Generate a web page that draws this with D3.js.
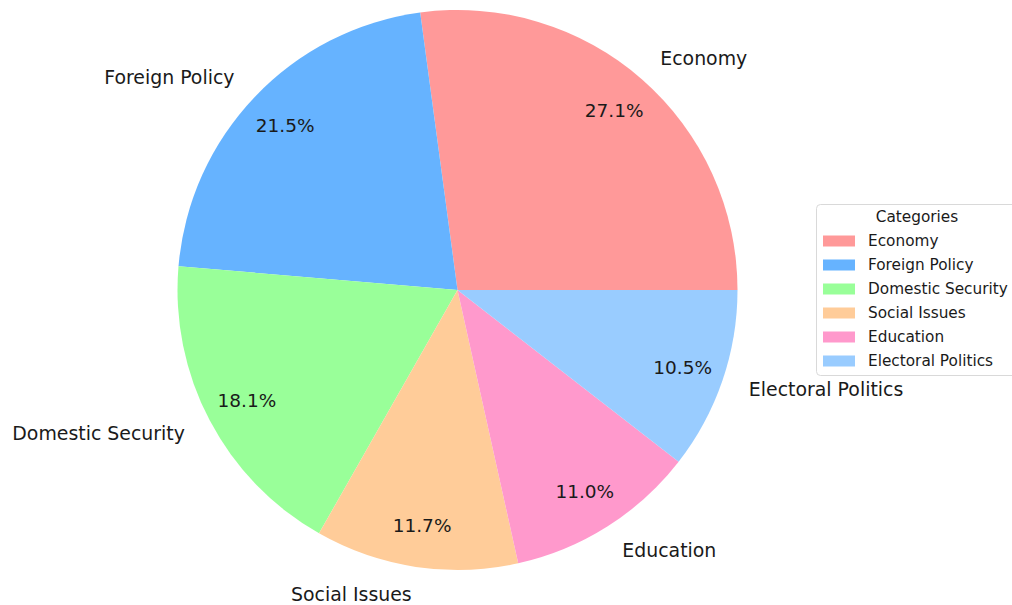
<!DOCTYPE html>
<html lang="en">
  <head>
    <meta charset="utf-8" />
    <title>Categories pie</title>
    <script src="https://d3js.org/d3.v7.min.js"></script>
    <style type="text/css">
      body {
        margin: 0;
        background: #fff;
      }
      svg text {
        font-family: "DejaVu Sans", sans-serif;
        fill: #1a1a1a;
      }
    </style>
  </head>
  <body>
    <script type="text/javascript">
      //Width and height
      var w = 1012;
      var h = 605;

      var categories = [
        "Economy",
        "Foreign Policy",
        "Domestic Security",
        "Social Issues",
        "Education",
        "Electoral Politics",
      ];
      var values = [27.1, 21.5, 18.1, 11.7, 11.0, 10.5];
      var colors = ["#ff9999", "#66b3ff", "#99ff99", "#ffcc99", "#ff99cc", "#99ccff"];

      var cx = 457.5;
      var cy = 290;
      var r = 280;

      var total = d3.sum(values);

      var color = d3.scaleOrdinal().domain(categories).range(colors);

      //matplotlib style: start at 3 o'clock, go counter-clockwise
      var pie = d3
        .pie()
        .sort(null)
        .startAngle(Math.PI / 2)
        .endAngle(Math.PI / 2 - 2 * Math.PI)
        .value(function (d) {
          return d.value;
        });

      var data = pie(
        categories.map(function (c, i) {
          return { name: c, value: values[i] };
        })
      );

      var arc = d3.arc().innerRadius(0).outerRadius(r);
      var labelArc = d3.arc().innerRadius(r * 1.1).outerRadius(r * 1.1);
      var pctArc = d3.arc().innerRadius(r * 0.85).outerRadius(r * 0.85);

      //Create SVG element
      var svg = d3
        .select("body")
        .append("svg")
        .attr("width", w)
        .attr("height", h);

      var g = svg.append("g").attr("transform", "translate(" + cx + "," + cy + ")");

      g.selectAll("path")
        .data(data)
        .enter()
        .append("path")
        .attr("d", arc)
        .attr("fill", function (d) {
          return color(d.data.name);
        });

      //Outer labels
      g.selectAll("text.label")
        .data(data)
        .enter()
        .append("text")
        .attr("class", "label")
        .attr("x", function (d) {
          return labelArc.centroid(d)[0];
        })
        .attr("y", function (d) {
          return labelArc.centroid(d)[1];
        })
        .attr("dy", "0.35em")
        .attr("text-anchor", function (d) {
          return labelArc.centroid(d)[0] > 0 ? "start" : "end";
        })
        .style("font-size", "18.9px")
        .text(function (d) {
          return d.data.name;
        });

      //Percent labels
      g.selectAll("text.pct")
        .data(data)
        .enter()
        .append("text")
        .attr("class", "pct")
        .attr("x", function (d) {
          return pctArc.centroid(d)[0];
        })
        .attr("y", function (d) {
          return pctArc.centroid(d)[1];
        })
        .attr("dy", "0.35em")
        .attr("text-anchor", "middle")
        .style("font-size", "18.5px")
        .text(function (d) {
          return ((d.data.value / total) * 100).toFixed(1) + "%";
        });

      //Legend
      var legend = svg.append("g").attr("transform", "translate(816,204)");

      legend
        .append("rect")
        .attr("x", 0.5)
        .attr("y", 0.5)
        .attr("width", 210)
        .attr("height", 171)
        .attr("rx", 4)
        .attr("fill", "#fff")
        .attr("fill-opacity", 0.8)
        .attr("stroke", "#d9d9d9");

      legend
        .append("text")
        .attr("x", 101)
        .attr("y", 13)
        .attr("dy", "0.35em")
        .attr("text-anchor", "middle")
        .style("font-size", "15.3px")
        .text("Categories");

      var rowScale = d3
        .scalePoint()
        .domain(categories)
        .range([37, 157]);

      var rows = legend
        .selectAll("g.row")
        .data(categories)
        .enter()
        .append("g")
        .attr("class", "row")
        .attr("transform", function (d) {
          return "translate(0," + rowScale(d) + ")";
        });

      rows
        .append("rect")
        .attr("x", 7)
        .attr("y", -5.5)
        .attr("width", 32)
        .attr("height", 11)
        .attr("fill", function (d) {
          return color(d);
        });

      rows
        .append("text")
        .attr("x", 52)
        .attr("dy", "0.35em")
        .style("font-size", "15.3px")
        .text(function (d) {
          return d;
        });
    </script>
  </body>
</html>
